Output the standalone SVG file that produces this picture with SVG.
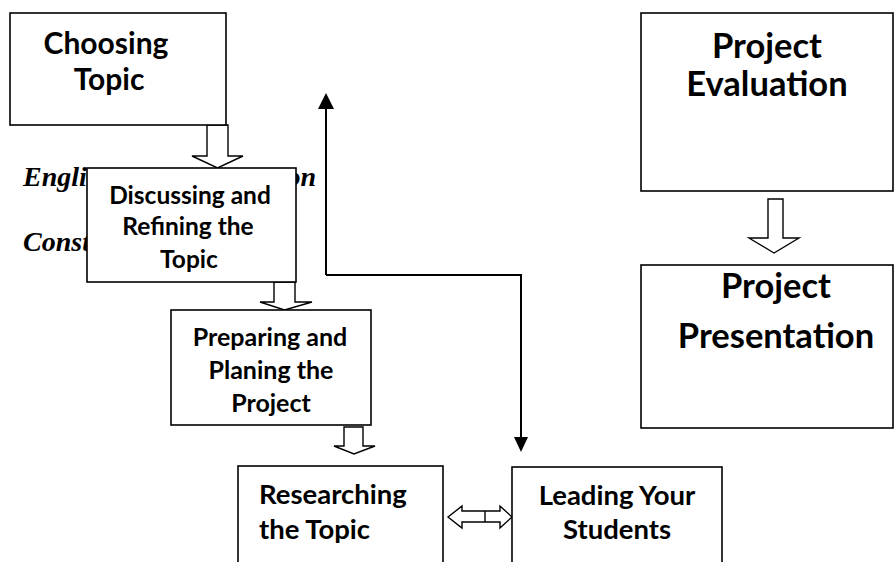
<svg xmlns="http://www.w3.org/2000/svg" width="894" height="562" viewBox="0 0 894 562">
<style>
.box{fill:#fff;stroke:#000;stroke-width:1.6}
.t{font-family:Lato,"Open Sans",sans-serif;font-weight:bold;fill:#000;text-anchor:middle}
.ts{font-family:Lato,"Open Sans",sans-serif;font-weight:bold;fill:#000;text-anchor:start}
.it{font-family:"Liberation Serif",serif;font-weight:bold;font-style:italic;font-size:28px;fill:#000}
.hol{fill:#fff;stroke:#000;stroke-width:1.4}
.ln{fill:none;stroke:#000;stroke-width:2}
</style>
<g id="bg-text">
<text class="it" x="23" y="186">Engli</text>
<text class="it" x="316" y="186" text-anchor="end">on</text>
<text class="it" x="23" y="251">Const</text>
</g>
<g id="connectors">
<polygon class="hol" points="207,125 228,125 228,156 243,156 217.5,168 192,156 207,156"/>
<polygon class="hol" points="274,282 295,282 295,302 312,302 284.5,310 260,302 274,302"/>
<polygon class="hol" points="344,427 363,427 363,446 375,446 354,454 334,446 344,446"/>
<polygon class="hol" points="768,199 783,199 783,238 799,238 774,253 749,238 768,238"/>
<polygon class="hol" points="448,517 462,506 462,511 500,511 500,506 512,517 500,528 500,522 462,522 462,528"/>
<line x1="485" y1="511" x2="485" y2="522" stroke="#000" stroke-width="1.4"/>
<path d="M326,275 L326,109" class="ln"/>
<polygon points="318,109 326,93 334,109" fill="#000"/>
<path d="M326,275 L521,275 L521,437" class="ln"/>
<polygon points="514,437 521,452 528,437" fill="#000"/>
</g>
<g id="choosing">
<rect class="box" x="10" y="13" width="216" height="112"/>
<text class="t" x="106" y="54" font-size="30">Choosing</text>
<text class="t" x="109" y="90" font-size="30">Topic</text>
</g>
<g id="discussing">
<rect class="box" x="87" y="168" width="209" height="114"/>
<text class="t" x="190" y="204" font-size="24.5">Discussing and</text>
<text class="t" x="188" y="235" font-size="24.5">Refining the</text>
<text class="t" x="189" y="268" font-size="24.5">Topic</text>
</g>
<g id="preparing">
<rect class="box" x="171" y="310" width="200" height="115"/>
<text class="t" x="270" y="346" font-size="25">Preparing and</text>
<text class="t" x="271" y="379" font-size="25">Planing the</text>
<text class="t" x="271" y="412" font-size="25">Project</text>
</g>
<g id="researching">
<rect class="box" x="238" y="466" width="205" height="110"/>
<text class="ts" x="259" y="504" font-size="27.5">Researching</text>
<text class="ts" x="259" y="539" font-size="27.5">the Topic</text>
</g>
<g id="leading">
<rect class="box" x="512" y="467" width="210" height="110"/>
<text class="t" x="617" y="505" font-size="27.5">Leading Your</text>
<text class="t" x="617" y="539" font-size="27.5">Students</text>
</g>
<g id="evaluation">
<rect class="box" x="641" y="13" width="252" height="178"/>
<text class="t" x="767" y="58" font-size="34.5">Project</text>
<text class="t" x="767" y="96" font-size="34.5">Evaluation</text>
</g>
<g id="presentation">
<rect class="box" x="641" y="265" width="252" height="163"/>
<text class="t" x="776" y="298" font-size="34.5">Project</text>
<text class="t" x="776" y="348" font-size="34.5">Presentation</text>
</g>
</svg>
